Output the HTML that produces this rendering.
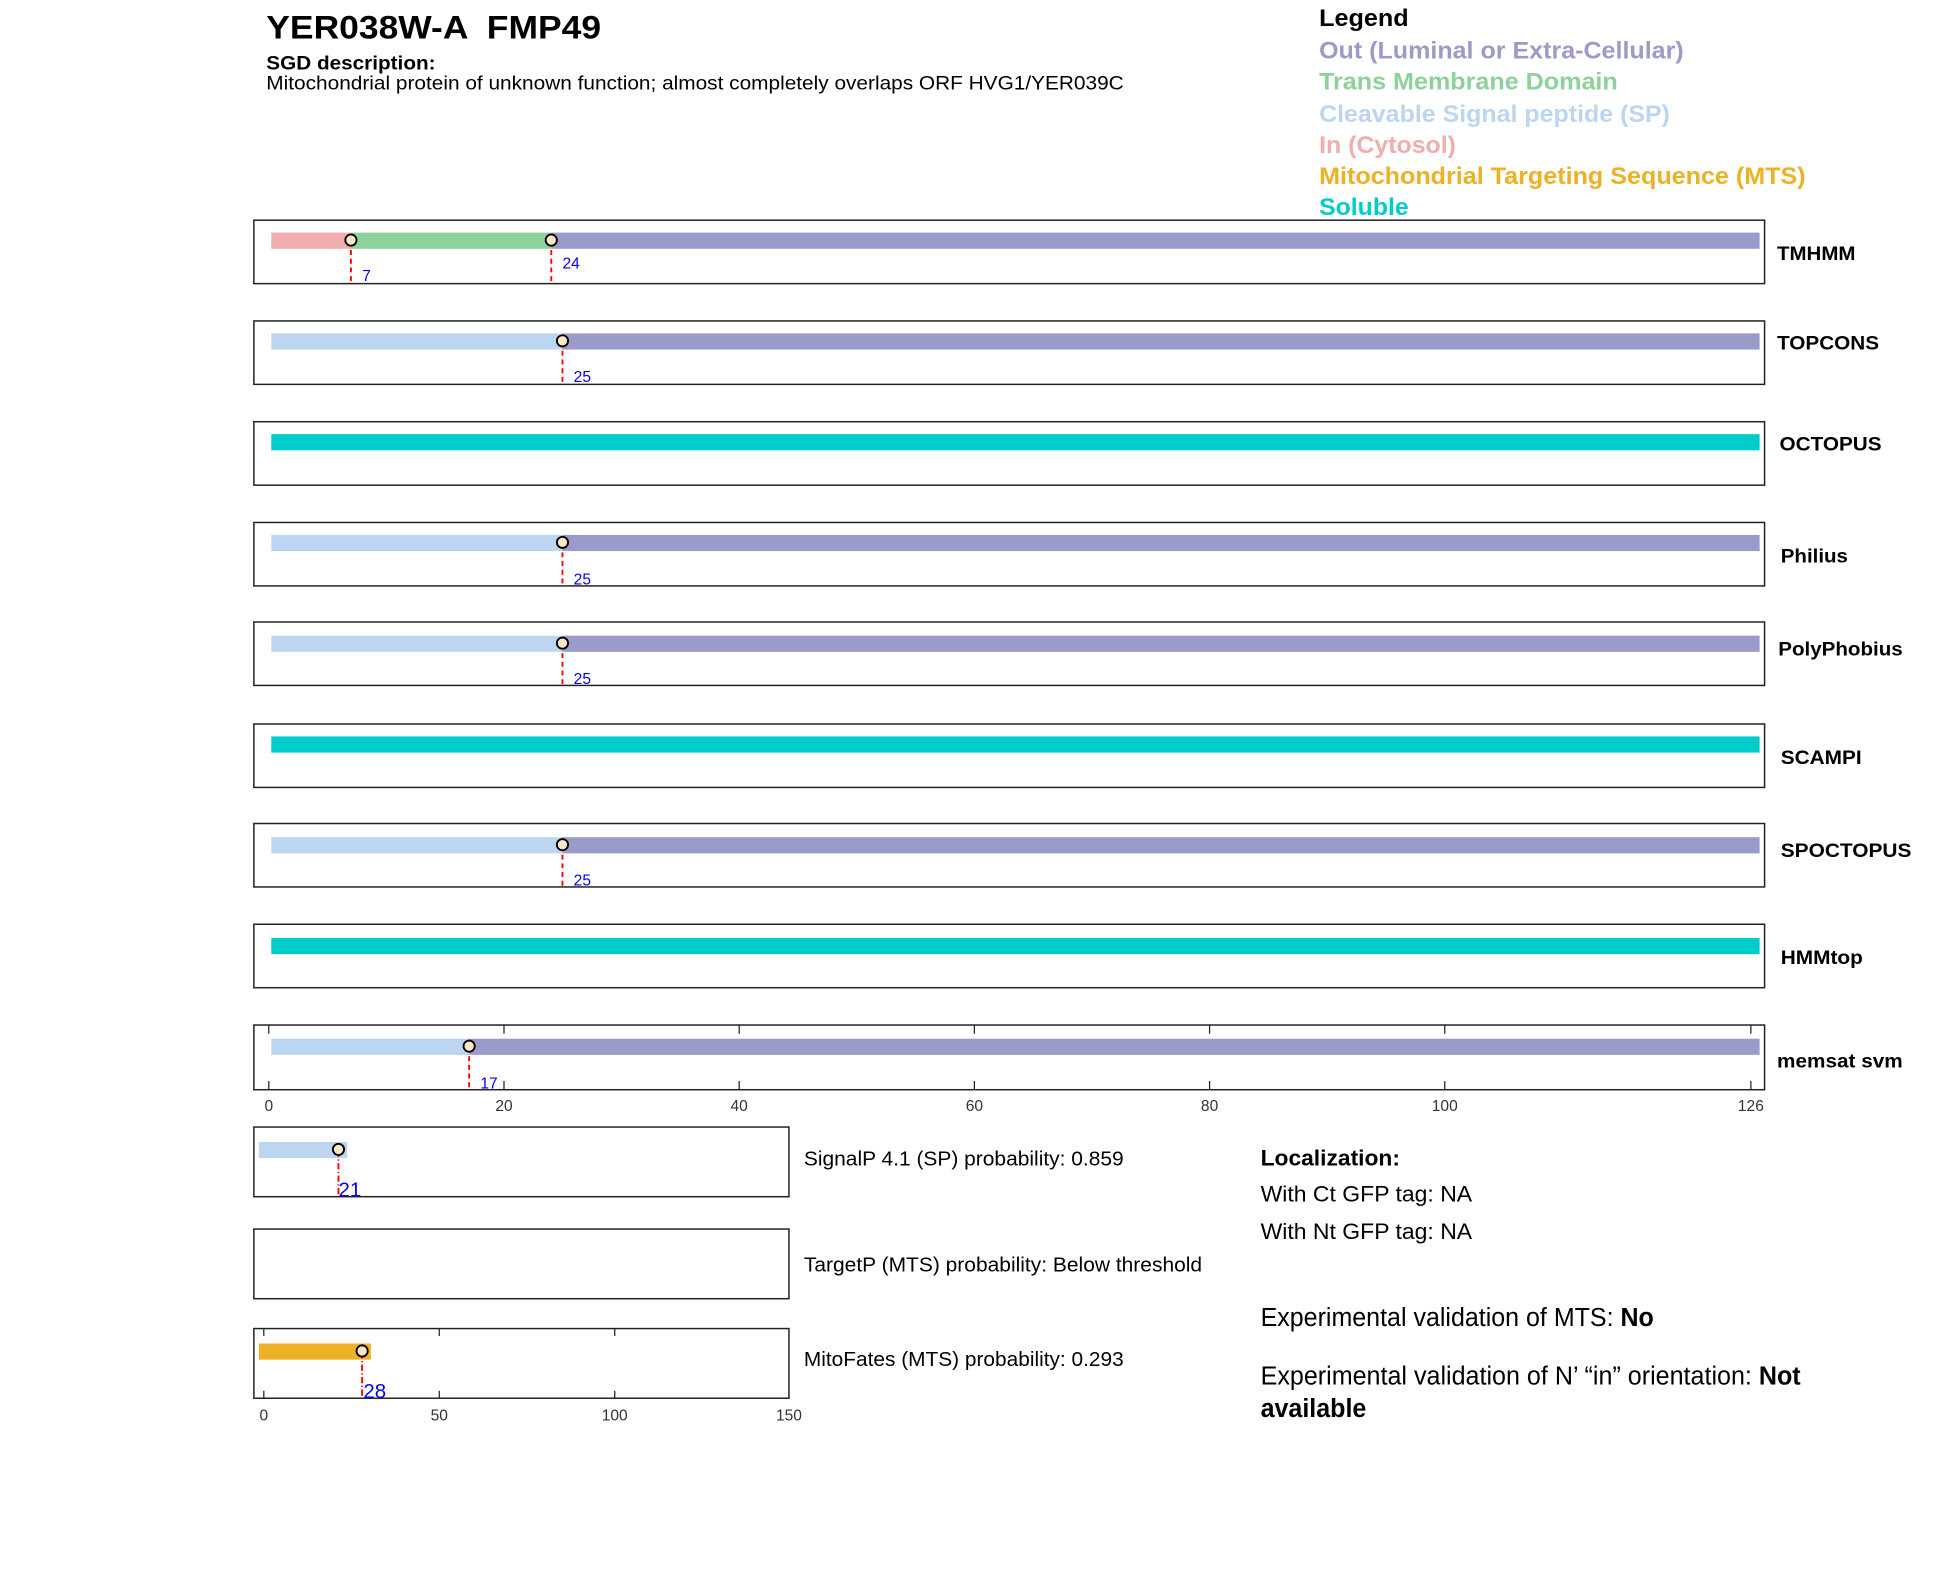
<!DOCTYPE html>
<html><head><meta charset="utf-8"><style>html,body{margin:0;padding:0;background:#fff}svg{display:block}</style></head>
<body>
<svg width="1950" height="1573" viewBox="0 0 1567 1264.5" preserveAspectRatio="none" font-family="Liberation Sans, Arial, sans-serif">
<rect width="1570" height="1270" fill="#fff"/>
<text x="214" y="31" font-size="26" font-weight="bold" textLength="269" lengthAdjust="spacingAndGlyphs" xml:space="preserve">YER038W-A  FMP49</text>
<text x="214" y="56" font-size="15.5" font-weight="bold" textLength="136" lengthAdjust="spacingAndGlyphs">SGD description:</text>
<text x="214" y="72" font-size="15.5" textLength="689" lengthAdjust="spacingAndGlyphs">Mitochondrial protein of unknown function; almost completely overlaps ORF HVG1/YER039C</text>
<g font-size="19" font-weight="bold">
<text x="1060" y="21" fill="#000" textLength="72" lengthAdjust="spacingAndGlyphs">Legend</text>
<text x="1060" y="47" fill="#9b9bcb" textLength="293" lengthAdjust="spacingAndGlyphs">Out (Luminal or Extra-Cellular)</text>
<text x="1060" y="72" fill="#8fd19a" textLength="240" lengthAdjust="spacingAndGlyphs">Trans Membrane Domain</text>
<text x="1060" y="98" fill="#bcd6f2" textLength="282" lengthAdjust="spacingAndGlyphs">Cleavable Signal peptide (SP)</text>
<text x="1060" y="123" fill="#efadad" textLength="110" lengthAdjust="spacingAndGlyphs">In (Cytosol)</text>
<text x="1060" y="148" fill="#edb125" textLength="391" lengthAdjust="spacingAndGlyphs">Mitochondrial Targeting Sequence (MTS)</text>
<text x="1060" y="173" fill="#00cccc" textLength="72" lengthAdjust="spacingAndGlyphs">Soluble</text>
</g>
<g fill="none" stroke="#222" stroke-width="1.2">
<rect x="204" y="177" width="1214" height="51"/>
<rect x="204" y="258" width="1214" height="51"/>
<rect x="204" y="339" width="1214" height="51"/>
<rect x="204" y="420" width="1214" height="51"/>
<rect x="204" y="500" width="1214" height="51"/>
<rect x="204" y="582" width="1214" height="51"/>
<rect x="204" y="662" width="1214" height="51"/>
<rect x="204" y="743" width="1214" height="51"/>
<rect x="204" y="824" width="1214" height="52"/>
<rect x="204" y="906" width="430" height="56"/>
<rect x="204" y="988" width="430" height="56"/>
<rect x="204" y="1068" width="430" height="56"/>
</g>
<rect x="218" y="187" width="64" height="13" fill="#efadad"/>
<rect x="282" y="187" width="161" height="13" fill="#8fd19a"/>
<rect x="443" y="187" width="971" height="13" fill="#9b9bcb"/>
<rect x="218" y="268" width="234" height="13" fill="#bcd6f2"/>
<rect x="452" y="268" width="962" height="13" fill="#9b9bcb"/>
<rect x="218" y="349" width="1196" height="13" fill="#00cccc"/>
<rect x="218" y="430" width="234" height="13" fill="#bcd6f2"/>
<rect x="452" y="430" width="962" height="13" fill="#9b9bcb"/>
<rect x="218" y="511" width="234" height="13" fill="#bcd6f2"/>
<rect x="452" y="511" width="962" height="13" fill="#9b9bcb"/>
<rect x="218" y="592" width="1196" height="13" fill="#00cccc"/>
<rect x="218" y="673" width="234" height="13" fill="#bcd6f2"/>
<rect x="452" y="673" width="962" height="13" fill="#9b9bcb"/>
<rect x="218" y="754" width="1196" height="13" fill="#00cccc"/>
<rect x="218" y="835" width="159" height="13" fill="#bcd6f2"/>
<rect x="377" y="835" width="1037" height="13" fill="#9b9bcb"/>
<rect x="208" y="918" width="71" height="13" fill="#bcd6f2"/>
<rect x="208" y="1080" width="90" height="13" fill="#edb125"/>
<g stroke="#f00" stroke-width="1.5" stroke-dasharray="4,3">
<line x1="282" y1="194" x2="282" y2="228"/>
<line x1="443" y1="194" x2="443" y2="228"/>
<line x1="452" y1="275" x2="452" y2="309"/>
<line x1="452" y1="437" x2="452" y2="471"/>
<line x1="452" y1="518" x2="452" y2="551"/>
<line x1="452" y1="680" x2="452" y2="713"/>
<line x1="377" y1="842" x2="377" y2="876"/>
<line x1="272" y1="925" x2="272" y2="962" stroke-dasharray="5,2,1,2"/>
<line x1="291" y1="1087" x2="291" y2="1124" stroke-dasharray="5,2,1,2"/>
</g>
<g fill="#fde6c8" stroke="#000" stroke-width="1.5">
<circle cx="282" cy="193" r="4.5"/>
<circle cx="443" cy="193" r="4.5"/>
<circle cx="452" cy="274" r="4.5"/>
<circle cx="452" cy="436" r="4.5"/>
<circle cx="452" cy="517" r="4.5"/>
<circle cx="452" cy="679" r="4.5"/>
<circle cx="377" cy="841" r="4.5"/>
<circle cx="272" cy="924" r="4.5"/>
<circle cx="291" cy="1086" r="4.5"/>
</g>
<g fill="#00f" font-size="12.5">
<text x="291" y="226">7</text>
<text x="452" y="216">24</text>
<text x="461" y="307">25</text>
<text x="461" y="470">25</text>
<text x="461" y="550">25</text>
<text x="461" y="712">25</text>
<text x="386" y="875">17</text>
<text x="272" y="962" font-size="16.5">21</text>
<text x="292" y="1124" font-size="16.5">28</text>
</g>
<g font-size="15.5" font-weight="bold">
<text x="1428" y="209" textLength="63" lengthAdjust="spacingAndGlyphs">TMHMM</text>
<text x="1428" y="281" textLength="82" lengthAdjust="spacingAndGlyphs">TOPCONS</text>
<text x="1430" y="362" textLength="82" lengthAdjust="spacingAndGlyphs">OCTOPUS</text>
<text x="1431" y="452" textLength="54" lengthAdjust="spacingAndGlyphs">Philius</text>
<text x="1429" y="527" textLength="100" lengthAdjust="spacingAndGlyphs">PolyPhobius</text>
<text x="1431" y="614" textLength="65" lengthAdjust="spacingAndGlyphs">SCAMPI</text>
<text x="1431" y="689" textLength="105" lengthAdjust="spacingAndGlyphs">SPOCTOPUS</text>
<text x="1431" y="775" textLength="66" lengthAdjust="spacingAndGlyphs">HMMtop</text>
<text x="1428" y="858" textLength="101" lengthAdjust="spacingAndGlyphs">memsat svm</text>
</g>
<g stroke="#222" stroke-width="1">
<line x1="216" y1="824" x2="216" y2="831"/><line x1="216" y1="876" x2="216" y2="869"/>
<line x1="405" y1="824" x2="405" y2="831"/><line x1="405" y1="876" x2="405" y2="869"/>
<line x1="594" y1="824" x2="594" y2="831"/><line x1="594" y1="876" x2="594" y2="869"/>
<line x1="783" y1="824" x2="783" y2="831"/><line x1="783" y1="876" x2="783" y2="869"/>
<line x1="972" y1="824" x2="972" y2="831"/><line x1="972" y1="876" x2="972" y2="869"/>
<line x1="1161" y1="824" x2="1161" y2="831"/><line x1="1161" y1="876" x2="1161" y2="869"/>
<line x1="1407" y1="824" x2="1407" y2="831"/><line x1="1407" y1="876" x2="1407" y2="869"/>
<line x1="212" y1="1068" x2="212" y2="1074"/><line x1="212" y1="1124" x2="212" y2="1118"/>
<line x1="353" y1="1068" x2="353" y2="1074"/><line x1="353" y1="1124" x2="353" y2="1118"/>
<line x1="494" y1="1068" x2="494" y2="1074"/><line x1="494" y1="1124" x2="494" y2="1118"/>
</g>
<g font-size="12.5" fill="#333" text-anchor="middle">
<text x="216" y="893">0</text><text x="405" y="893">20</text><text x="594" y="893">40</text>
<text x="783" y="893">60</text><text x="972" y="893">80</text><text x="1161" y="893">100</text><text x="1407" y="893">126</text>
<text x="212" y="1142">0</text><text x="353" y="1142">50</text><text x="494" y="1142">100</text><text x="634" y="1142">150</text>
</g>
<g font-size="16.5">
<text x="646" y="937" textLength="257" lengthAdjust="spacingAndGlyphs">SignalP 4.1 (SP) probability: 0.859</text>
<text x="646" y="1022" textLength="320" lengthAdjust="spacingAndGlyphs">TargetP (MTS) probability: Below threshold</text>
<text x="646" y="1098" textLength="257" lengthAdjust="spacingAndGlyphs">MitoFates (MTS) probability: 0.293</text>
</g>
<text x="1013" y="937" font-size="18" font-weight="bold" textLength="112" lengthAdjust="spacingAndGlyphs">Localization:</text>
<text x="1013" y="966" font-size="18" textLength="170" lengthAdjust="spacingAndGlyphs">With Ct GFP tag: NA</text>
<text x="1013" y="996" font-size="18" textLength="170" lengthAdjust="spacingAndGlyphs">With Nt GFP tag: NA</text>
<text x="1013" y="1066" font-size="20.5" textLength="316" lengthAdjust="spacingAndGlyphs">Experimental validation of MTS: <tspan font-weight="bold">No</tspan></text>
<text x="1013" y="1113" font-size="20.5" textLength="434" lengthAdjust="spacingAndGlyphs">Experimental validation of N’ “in” orientation: <tspan font-weight="bold">Not</tspan></text>
<text x="1013" y="1139" font-size="20.5" font-weight="bold" textLength="85" lengthAdjust="spacingAndGlyphs">available</text>
</svg>
</body></html>
